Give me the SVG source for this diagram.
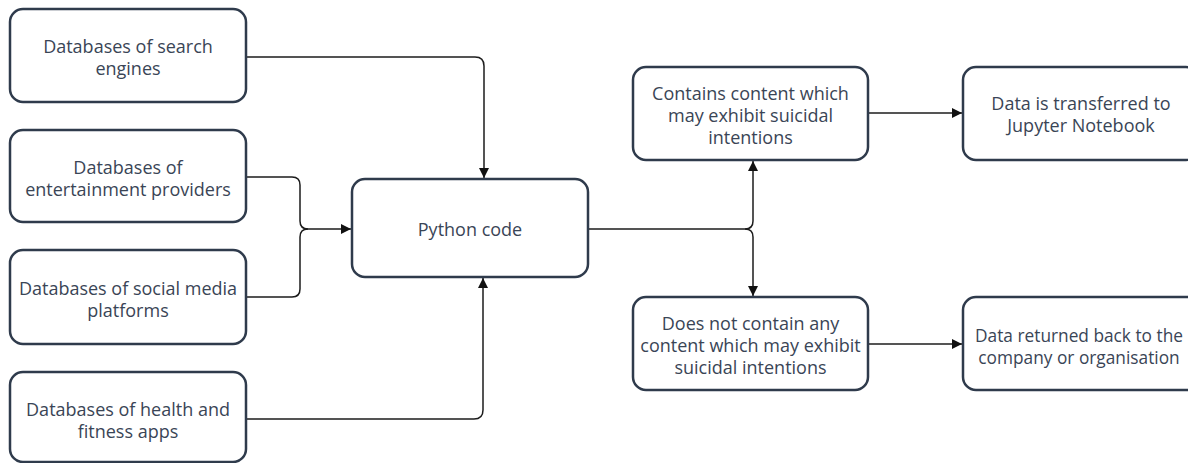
<svg xmlns="http://www.w3.org/2000/svg" width="1188" height="463" viewBox="0 0 1188 463">
  <style>
    .box { fill: #ffffff; stroke: #2f3b4c; stroke-width: 2.5; }
    .lbl { font-family: "Open Sans", "Liberation Sans", sans-serif; font-size: 18px; fill: #3a4556; text-anchor: middle; }
    .conn { fill: none; stroke: #1c1c1c; stroke-width: 1.5; }
  </style>
  <defs>
    <marker id="arrow" viewBox="0 0 10 10" refX="10" refY="5" markerWidth="10" markerHeight="10" markerUnits="userSpaceOnUse" orient="auto">
      <path d="M0,0 L10,5 L0,10 z" fill="#111111"/>
    </marker>
  </defs>
  <rect width="1188" height="463" fill="#ffffff"/>

  <g id="connectors">
    <path class="conn" d="M246,57 H475 Q484,57 484,66 V178" marker-end="url(#arrow)"/>
    <path class="conn" d="M246,177 H292 Q300,177 300,185 V221 Q300,229 308,229 H351" marker-end="url(#arrow)"/>
    <path class="conn" d="M246,297 H292 Q300,297 300,289 V237 Q300,229 308,229"/>
    <path class="conn" d="M246,419 H474 Q483,419 483,410 V278" marker-end="url(#arrow)"/>
    <path class="conn" d="M588,229 H745 Q753,229 753,221 V161" marker-end="url(#arrow)"/>
    <path class="conn" d="M745,229 Q753,229 753,237 V296" marker-end="url(#arrow)"/>
    <path class="conn" d="M868,113 H962" marker-end="url(#arrow)"/>
    <path class="conn" d="M868,344 H962" marker-end="url(#arrow)"/>
  </g>

  <g id="node-search">
    <rect class="box" x="10" y="9" width="236" height="93" rx="13"/>
    <text class="lbl"><tspan x="128" y="53">Databases of search</tspan><tspan x="128" y="75">engines</tspan></text>
  </g>
  <g id="node-entertainment">
    <rect class="box" x="10" y="130" width="236" height="92" rx="13"/>
    <text class="lbl"><tspan x="128" y="174">Databases of</tspan><tspan x="128" y="196">entertainment providers</tspan></text>
  </g>
  <g id="node-social">
    <rect class="box" x="10" y="250" width="236" height="94" rx="13"/>
    <text class="lbl"><tspan x="128" y="295">Databases of social media</tspan><tspan x="128" y="317">platforms</tspan></text>
  </g>
  <g id="node-health">
    <rect class="box" x="10" y="372" width="236" height="90" rx="13"/>
    <text class="lbl"><tspan x="128" y="416">Databases of health and</tspan><tspan x="128" y="438">fitness apps</tspan></text>
  </g>
  <g id="node-python">
    <rect class="box" x="352" y="179" width="236" height="98" rx="13"/>
    <text class="lbl" x="470" y="236">Python code</text>
  </g>
  <g id="node-contains">
    <rect class="box" x="633" y="67" width="235" height="93" rx="13"/>
    <text class="lbl"><tspan x="750.5" y="100">Contains content which</tspan><tspan x="750.5" y="122">may exhibit suicidal</tspan><tspan x="750.5" y="144">intentions</tspan></text>
  </g>
  <g id="node-jupyter">
    <rect class="box" x="963" y="67" width="236" height="93" rx="13"/>
    <text class="lbl"><tspan x="1081" y="110">Data is transferred to</tspan><tspan x="1081" y="132">Jupyter Notebook</tspan></text>
  </g>
  <g id="node-doesnot">
    <rect class="box" x="633" y="297" width="235" height="93" rx="13"/>
    <text class="lbl"><tspan x="750.5" y="330">Does not contain any</tspan><tspan x="750.5" y="352">content which may exhibit</tspan><tspan x="750.5" y="374">suicidal intentions</tspan></text>
  </g>
  <g id="node-returned">
    <rect class="box" x="963" y="297" width="240" height="93" rx="13"/>
    <text class="lbl" style="font-size:17.3px"><tspan x="1079" y="342">Data returned back to the</tspan><tspan x="1079" y="364">company or organisation</tspan></text>
  </g>
</svg>
